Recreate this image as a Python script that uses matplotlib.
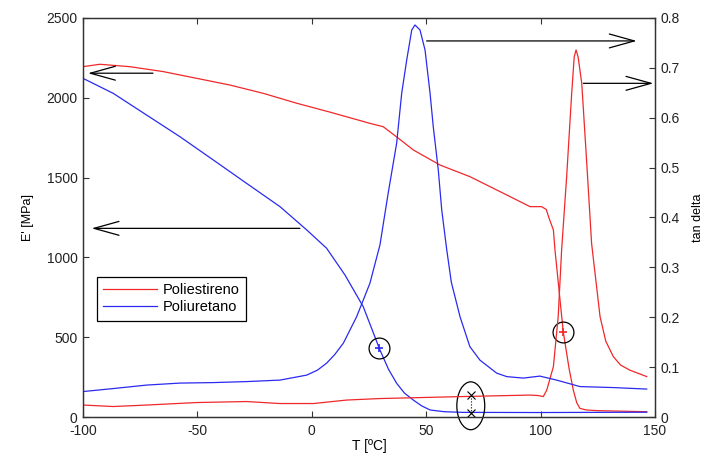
import numpy as np
import matplotlib
matplotlib.use('Agg')
import matplotlib.pyplot as plt
from matplotlib.patches import Ellipse
from matplotlib.ticker import FormatStrFormatter

plt.rcParams['font.family'] = ['Liberation Sans', 'DejaVu Sans']
plt.rcParams['axes.unicode_minus'] = False

# Poliestireno - E' (MPa)
T_ps_E = [-100, -92.6, -79.5, -64.9, -50.3, -35.8, -21.2, -6.6, 8, 25.4, 31.2, 38, 44.4, 56, 69.1,
          83.7, 95.4, 100.5, 102.5, 103.6, 105.6, 106.3, 109.9, 112.5, 114.3, 115.8, 117.2,
          120, 124.5, 146.4]
E_ps = [2195, 2210, 2195, 2164, 2122, 2080, 2028, 1966, 1910, 1840, 1819, 1745, 1673, 1579, 1506,
        1402, 1318, 1318, 1300, 1250, 1172, 1046, 535, 300, 169, 90, 54, 44, 40, 33]

# Poliuretano - E' (MPa)
T_pu_E = [-100, -86.8, -72.2, -57.6, -43, -28.5, -13.9, -2.2, 6.5, 14.5, 22.5, 29.8, 33.5, 37.1,
          40.5, 44.4, 48, 51.7, 58, 66.2, 100, 146.4]
E_pu = [2122, 2028, 1892, 1756, 1610, 1464, 1318, 1172, 1057, 890, 691, 420, 300, 211,
        150, 106, 70, 44, 33, 29, 28, 30]

# Poliestireno - tan delta
T_ps_tan = [-100, -86.8, -72, -50.3, -28.5, -13.9, 0.7, 15.3, 29.8, 66.2, 95.4, 99, 101.2, 102.7,
            105.6, 107.7, 109.2, 111.4, 113.6, 114.7, 115.5, 116.4, 118, 120.1, 122.3, 126,
            128.5, 131.8, 135, 139, 146.4]
tan_ps = [0.024, 0.021, 0.024, 0.029, 0.031, 0.027, 0.027, 0.034, 0.037, 0.041, 0.044, 0.043,
          0.041, 0.054, 0.101, 0.201, 0.335, 0.482, 0.649, 0.722, 0.736, 0.722, 0.669, 0.515,
          0.348, 0.201, 0.152, 0.121, 0.104, 0.094, 0.081]

# Poliuretano - tan delta
T_pu_tan = [-100, -86.8, -72.2, -57.6, -43, -28.5, -13.9, -2.2, 2.5, 6.5, 10, 13.8, 19.6, 25.4,
            29.8, 33.4, 37.1, 39.3, 41.5, 43.7, 45.1, 47.3, 49.5, 51.7, 53.1, 55.3, 56.8, 59,
            61, 64.8, 69.1, 73.5, 80.8, 85.2, 92.4, 99.7, 107, 117.2, 131.8, 146.4]
tan_pu = [0.051, 0.057, 0.064, 0.068, 0.069, 0.071, 0.074, 0.084, 0.094, 0.108, 0.125, 0.148,
          0.201, 0.268, 0.345, 0.449, 0.549, 0.649, 0.716, 0.776, 0.786, 0.776, 0.736, 0.649,
          0.582, 0.495, 0.415, 0.335, 0.27, 0.201, 0.141, 0.114, 0.088, 0.081, 0.078, 0.082,
          0.074, 0.061, 0.059, 0.056]

# marked points (circled) on E' curves
mark_T = [29.5, 109.9]
mark_E = [430, 535]
# marked points (crossed) on tan delta at 70 ºC
cross_T = [69.5, 69.5]
cross_tan = [0.044, 0.008]

fig = plt.figure(figsize=(7.11, 4.59), dpi=100)
ax = fig.add_axes([0.1167, 0.0915, 0.8045, 0.8693])
ax2 = ax.twinx()

red = '#f0282a'
blue = '#2a2af0'

l1, = ax.plot(T_ps_E, E_ps, color=red, linewidth=0.9)
l2, = ax.plot(T_pu_E, E_pu, color=blue, linewidth=0.9)
ax2.plot(T_ps_tan, tan_ps, color=red, linewidth=0.9)
ax2.plot(T_pu_tan, tan_pu, color=blue, linewidth=0.9)

# markers inside circles
ax.plot(mark_T[0], mark_E[0], marker='+', color=blue, markersize=6, markeredgewidth=1.2)
ax.plot(mark_T[1], mark_E[1], marker='+', color=red, markersize=6, markeredgewidth=1.2)
ax.plot(mark_T, mark_E, linestyle='none', marker='o', markersize=15,
        markerfacecolor='none', markeredgecolor='k', markeredgewidth=0.9)

ax2.plot(cross_T, cross_tan, linestyle=':', color='k', linewidth=0.8,
         marker='x', markersize=6, markeredgewidth=0.8, clip_on=False)
ax2.add_patch(Ellipse((69.5, 0.0225), 12.2, 0.096, fill=False, edgecolor='k',
                      linewidth=0.9, clip_on=False))

# arrows pointing to each axis
arr = dict(arrowstyle='->,head_length=1.8,head_width=0.5', color='k', linewidth=0.9,
           shrinkA=0, shrinkB=0, mutation_scale=10)
ax.annotate('', xy=(-97.8, 2154), xytext=(-69.4, 2154), arrowprops=arr)
ax.annotate('', xy=(-96.2, 1182), xytext=(-5.2, 1182), arrowprops=arr)
ax2.annotate('', xy=(142, 0.754), xytext=(50.2, 0.754), arrowprops=arr)
ax2.annotate('', xy=(149.3, 0.669), xytext=(118.7, 0.669), arrowprops=arr,
             annotation_clip=False)

ax.set_xlim(-100, 150)
ax.set_ylim(0, 2500)
ax2.set_ylim(0, 0.8)
ax.set_xticks([-100, -50, 0, 50, 100, 150])
ax.set_yticks([0, 500, 1000, 1500, 2000, 2500])
ax2.set_yticks(np.arange(0, 0.81, 0.1))
ax2.yaxis.set_major_formatter(FormatStrFormatter('%g'))

ax.tick_params(direction='in', length=4, width=0.8, labelsize=10, top=True, pad=4,
               colors='#333333', labelcolor='#222222')
ax.tick_params(axis='x', pad=5)
ax2.tick_params(direction='in', length=4, width=0.8, labelsize=10, pad=4,
                colors='#333333', labelcolor='#222222')
for a in (ax, ax2):
    for s in a.spines.values():
        s.set_linewidth(0.9)
        s.set_color('#333333')

ax.set_xlabel('T [ºC]', fontsize=10, labelpad=1)
ax.set_ylabel("E' [MPa]", fontsize=9, labelpad=9)
ax2.set_ylabel('tan delta', fontsize=9, labelpad=9)

leg = ax2.legend([l1, l2], ['Poliestireno', 'Poliuretano'], loc='upper left',
                 bbox_to_anchor=(0.024, 0.352), borderaxespad=0, fontsize=10.5,
                 handlelength=3.7, fancybox=False, framealpha=1, edgecolor='k',
                 borderpad=0.45, labelspacing=0.2, handletextpad=0.4)
leg.get_frame().set_linewidth(0.9)

plt.savefig('out.png', dpi=100)
